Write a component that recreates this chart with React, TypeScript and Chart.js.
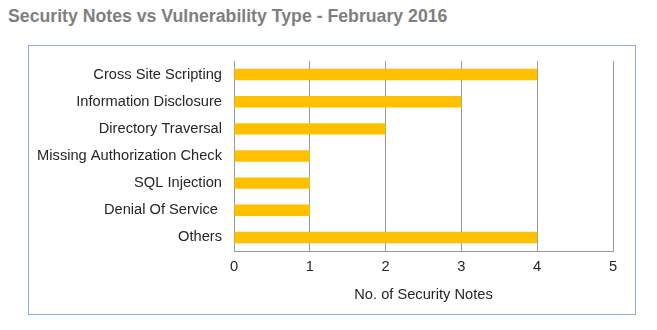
import React, { useEffect, useRef } from "react";
import { Chart, registerables } from "chart.js";

Chart.register(...registerables);

const TITLE = "Security Notes vs Vulnerability Type - February 2016";
const categories = [
  "Cross Site Scripting",
  "Information Disclosure",
  "Directory Traversal",
  "Missing Authorization Check",
  "SQL Injection",
  "Denial Of Service ",
  "Others",
];
const securityNotes = [4, 3, 2, 1, 1, 1, 4];
const xTicks = [0, 1, 2, 3, 4, 5];
const xAxisTitle = "No. of Security Notes";

export default function App() {
  const ref = useRef<HTMLCanvasElement | null>(null);

  useEffect(() => {
    if (!ref.current) return;
    const font = { family: "Arial, 'Liberation Sans', sans-serif", size: 14.67 };
    const chart = new Chart(ref.current, {
      type: "bar",
      data: {
        labels: categories,
        datasets: [
          {
            label: xAxisTitle,
            data: securityNotes,
            backgroundColor: "#FFC000",
            borderWidth: 0,
            categoryPercentage: 1,
            barPercentage: 0.42,
          },
        ],
      },
      options: {
        indexAxis: "y",
        animation: false,
        responsive: false,
        maintainAspectRatio: false,
        layout: { padding: { left: 0, right: 22, top: 15, bottom: 0 } },
        plugins: {
          legend: { display: false },
          tooltip: { enabled: false },
          title: { display: false },
        },
        scales: {
          x: {
            min: xTicks[0],
            max: xTicks[xTicks.length - 1],
            afterBuildTicks: (s: any) => {
              s.ticks = xTicks.map((v) => ({ value: v }));
            },
            afterFit: (s: any) => {
              s.height = 63;
              s.paddingLeft = 0;
              s.paddingRight = 0;
            },
            grid: {
              display: true,
              color: "#9a9a9a",
              lineWidth: 1,
              drawTicks: false,
            },
            border: { display: true, color: "#9a9a9a" },
            ticks: { color: "#262626", font, padding: 7 },
            title: {
              display: true,
              text: xAxisTitle,
              color: "#262626",
              font,
              padding: { top: 2, bottom: 10 },
            },
          },
          y: {
            afterFit: (s: any) => {
              s.width = 205;
              s.paddingTop = 0;
              s.paddingBottom = 0;
            },
            grid: { display: false, drawTicks: false },
            border: { display: true, color: "#9a9a9a" },
            ticks: { color: "#262626", font, padding: 12 },
          },
        },
      },
    });
    return () => chart.destroy();
  }, []);

  return (
    <div style={{ position: "fixed", left: 0, top: 0, width: 657, height: 330, background: "#fff" }}>
      <div
        style={{
          position: "absolute",
          left: 8,
          top: 6,
          fontFamily: "Arial, 'Liberation Sans', sans-serif",
          fontWeight: "bold",
          fontSize: 17.7,
          lineHeight: "20px",
          color: "#7f7f7f",
          whiteSpace: "nowrap",
        }}
      >
        {TITLE}
      </div>
      <div
        style={{
          position: "absolute",
          left: 28,
          top: 45,
          width: 606,
          height: 268,
          border: "1px solid #8eaee0",
        }}
      >
        <canvas ref={ref} width={606} height={268} style={{ display: "block", width: 606, height: 268 }} />
      </div>
    </div>
  );
}
